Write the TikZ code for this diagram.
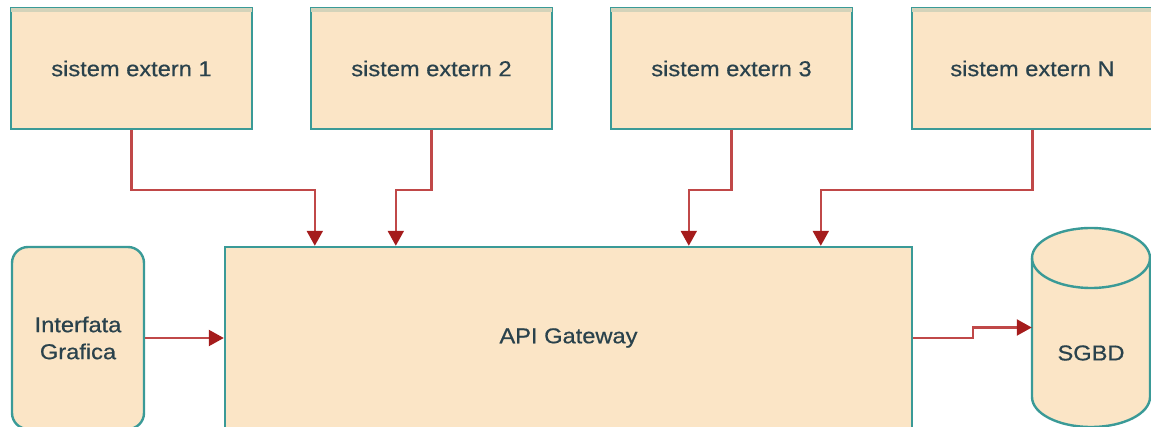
\documentclass[tikz,border=0pt]{standalone}
\usepackage{fontspec}
\setmainfont{Liberation Sans}[FakeStretch=1.1,FakeBold=0.6]
\usetikzlibrary{arrows.meta,calc}
\definecolor{boxfill}{HTML}{FBE5C6}
\definecolor{boxline}{HTML}{3A9A97}
\definecolor{txt}{HTML}{2A424C}
\definecolor{linered}{HTML}{C04848}
\definecolor{headred}{HTML}{A51C1C}
\definecolor{band}{HTML}{D3D3BA}
\tikzset{
  sysbox/.style={draw=boxline, fill=boxfill, line width=2.4pt, text=txt,
    minimum width=241, minimum height=121, inner sep=0pt,
    font=\fontsize{21.5}{27}\selectfont},
  bigbox/.style={draw=boxline, fill=boxfill, line width=2.4pt, text=txt,
    inner sep=0pt, font=\fontsize{21.5}{27}\selectfont},
  conn/.style={draw=linered, line width=2.2pt,
    -{Triangle[length=15pt,width=16pt,color=headred]}},
}
\begin{document}
\begin{tikzpicture}[x=1pt,y=-1pt]
\useasboundingbox (0,0) rectangle (1151,427);
\clip (0,0) rectangle (1151,427);
% top external systems
\node[sysbox] (s1) at (131.5,68.5) {\raisebox{-2.5pt}{sistem extern 1}};
\node[sysbox] (s2) at (431.5,68.5) {\raisebox{-2.5pt}{sistem extern 2}};
\node[sysbox] (s3) at (731.5,68.5) {\raisebox{-2.5pt}{sistem extern 3}};
\node[sysbox] (s4) at (1032.5,68.5) {\raisebox{-2.5pt}{sistem extern N}};
\foreach \b in {s1,s2,s3,s4}{
  \fill[band] ($(\b.north west)+(1.2,1.2)$) rectangle ($(\b.north east)+(-1.2,5)$);
}
% GUI
\node[bigbox, rounded corners=16pt, minimum width=132, minimum height=182,
      align=center] (gui) at (78,338) {Interfata\\Grafica};
% API gateway
\node[bigbox, minimum width=687, minimum height=182] (api) at (568.5,338) {API Gateway};
% database cylinder
\node[minimum width=118, minimum height=199, inner sep=0pt] (db) at (1091,327.5) {};
\filldraw[draw=boxline, fill=boxfill, line width=2.4pt]
  (1032,258) -- (1032,397) arc[start angle=180, end angle=360, x radius=59, y radius=-30]
  -- (1150,258) arc[start angle=0, end angle=180, x radius=59, y radius=-30] -- cycle;
\draw[boxline, line width=2.4pt]
  (1032,258) arc[start angle=180, end angle=360, x radius=59, y radius=-30];
\node[text=txt, font=\fontsize{21.5}{27}\selectfont] (dbtext) at (1091,353) {SGBD};
% connectors
\draw[conn] (s1.south) -- ++(0,60) -| ($(api.north west)+(91,0)$);
\draw[conn] (s2.south) -- ++(0,60) -| ($(api.north west)+(172,0)$);
\draw[conn] (s3.south) -- ++(0,60) -| ($(api.north west)+(465,0)$);
\draw[conn] (s4.south) -- ++(0,60) -| ($(api.north west)+(597,0)$);
\draw[conn] (gui.east) -- (api.west);
\draw[conn] (api.east) -- ++(60,0) |- (db.west);
\end{tikzpicture}
\end{document}
